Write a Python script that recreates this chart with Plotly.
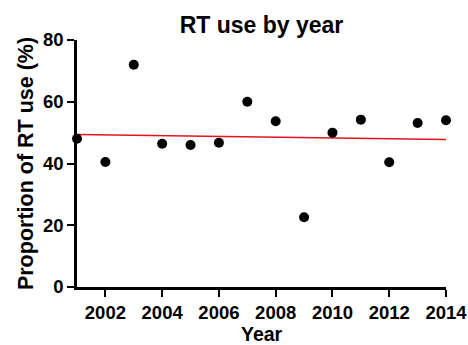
import plotly.graph_objects as go

years = [2001, 2002, 2003, 2004, 2005, 2006, 2007, 2008, 2009, 2010, 2011, 2012, 2013, 2014]
rt_use = [48.0, 40.5, 72.0, 46.4, 46.0, 46.7, 60.0, 53.7, 22.6, 50.0, 54.2, 40.4, 53.1, 54.0]

trend_years = [2001, 2014]
trend_values = [49.4, 47.8]

x_ticks = [2002, 2004, 2006, 2008, 2010, 2012, 2014]
y_ticks = [0, 20, 40, 60, 80]

FONT = "Liberation Sans, Arial, Helvetica, sans-serif"

fig = go.Figure()
fig.add_trace(go.Scatter(
    x=trend_years, y=trend_values, mode="lines",
    line=dict(color="#e3141c", width=1.5), cliponaxis=False, showlegend=False,
))
fig.add_trace(go.Scatter(
    x=years, y=rt_use, mode="markers",
    marker=dict(color="black", size=10), cliponaxis=False, showlegend=False,
))

fig.update_layout(
    width=468, height=345,
    margin=dict(l=77, r=22, t=40, b=58),
    paper_bgcolor="white", plot_bgcolor="white",
    font=dict(family=FONT, color="black"),
    title=dict(text="<b>RT use by year</b>", x=0.5, xref="paper", xanchor="center",
               y=1 - 25 / 345, yref="container", yanchor="middle",
               font=dict(size=23, family=FONT, color="black")),
)
# x-axis title as an annotation so it can sit near the bottom edge like the reference
fig.add_annotation(
    text="<b>Year</b>", xref="paper", yref="paper", x=0.5, y=0,
    xanchor="center", yanchor="middle", yshift=-47, showarrow=False,
    font=dict(size=19.5, family=FONT, color="black"),
)
fig.update_xaxes(
    range=[2001, 2014], tickvals=x_ticks, ticktext=[f"<b>{v}</b>" for v in x_ticks],
    showline=True, linecolor="black", linewidth=2.5,
    ticks="outside", ticklen=7, tickwidth=2, tickcolor="black",
    showgrid=False, zeroline=False, automargin=False,
    tickfont=dict(size=18.5, family=FONT, color="black"),
)
fig.update_yaxes(
    range=[0, 80], tickvals=y_ticks, ticktext=[f"<b>{v}</b>" for v in y_ticks],
    showline=True, linecolor="black", linewidth=2.5,
    ticks="outside", ticklen=7, tickwidth=2, tickcolor="black",
    showgrid=False, zeroline=False, automargin=False,
    tickfont=dict(size=18.5, family=FONT, color="black"),
    title=dict(text="<b>Proportion of RT use (%)</b>", font=dict(size=21.5, family=FONT, color="black"), standoff=4),
)

# remove the browser's default 8px body margin so the figure fills the window
fig.write_html(
    "out.html",
    config={"displayModeBar": False},
    post_script="document.body.style.margin='0';document.body.style.overflow='hidden';",
)
